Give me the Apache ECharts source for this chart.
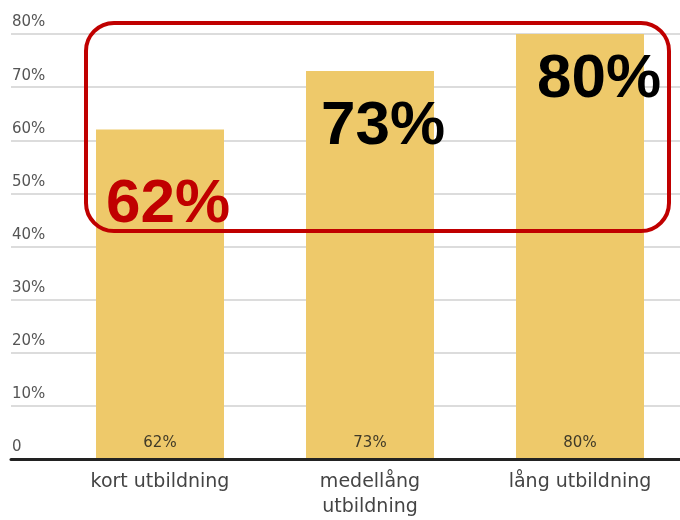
<!DOCTYPE html>
<html>
<head>
<meta charset="utf-8">
<script src="https://cdn.jsdelivr.net/npm/echarts@6/dist/echarts.min.js"></script>
<style>html,body{margin:0;padding:0;background:#fff;overflow:hidden}#c{width:700px;height:520px}</style>
</head>
<body>
<div id="c"></div>
<script>
const categories = ['kort utbildning', 'medellång\nutbildning', 'lång utbildning'];
const values = [62, 73, 80];
const yTicks = [0, 10, 20, 30, 40, 50, 60, 70, 80];
const yTickLabels = ['0', '10%', '20%', '30%', '40%', '50%', '60%', '70%', '80%'];
const highlightColors = ['#c00000', '#000000', '#000000'];

const chart = echarts.init(document.getElementById('c'), null, {renderer: 'canvas'});
const tickLabel = v => { const i = yTicks.indexOf(v); return i >= 0 ? yTickLabels[i] : ''; };
const bigPos = [[168, 205], [383, 127], [599, 80]];

chart.setOption({
  animation: false,
  backgroundColor: '#fff',
  grid: [
    {left: 11, right: 20, top: 34, bottom: 61},
    {left: 55, width: 630, top: 34, bottom: 61}
  ],
  xAxis: [
    {gridIndex: 0, type: 'category', data: categories, axisLabel: {show: false}, axisTick: {show: false},
     axisLine: {show: true, lineStyle: {color: '#222', width: 3}}},
    {gridIndex: 1, type: 'category', data: categories, axisTick: {show: false}, axisLine: {show: false},
     axisLabel: {margin: 12, color: '#444', fontFamily: 'DejaVu Sans', fontSize: 19, lineHeight: 25, interval: 0}}
  ],
  yAxis: [
    {gridIndex: 0, type: 'value', min: 0, max: 80, interval: 10,
     axisLine: {show: false}, axisTick: {show: false},
     splitLine: {show: true, lineStyle: {color: '#dcdcdc', width: 2}},
     axisLabel: {inside: true, margin: 1, verticalAlign: 'bottom', padding: [0, 0, 4, 0],
       color: '#555', fontFamily: 'DejaVu Sans', fontSize: 15, formatter: tickLabel}},
    {gridIndex: 1, type: 'value', min: 0, max: 80, interval: 10, show: false}
  ],
  series: [{
    type: 'bar', xAxisIndex: 1, yAxisIndex: 1, data: values, barWidth: 128,
    itemStyle: {color: '#eec96a'},
    label: {show: true, position: 'insideBottom', distance: 7, color: '#403a28',
      fontFamily: 'DejaVu Sans', fontSize: 15, formatter: p => p.value + '%'}
  }],
  graphic: [
    {type: 'rect', shape: {x: 86, y: 23, width: 583, height: 208, r: 28},
     style: {fill: 'none', stroke: '#c00000', lineWidth: 4}, z: 100}
  ].concat(values.map((v, i) => ({
    type: 'text', x: bigPos[i][0], y: bigPos[i][1], z: 101,
    style: {text: v + '%', fill: highlightColors[i], font: 'bold 62px "Liberation Sans"',
      textAlign: 'center', textVerticalAlign: 'middle'}
  })))
});
</script>
</body>
</html>
